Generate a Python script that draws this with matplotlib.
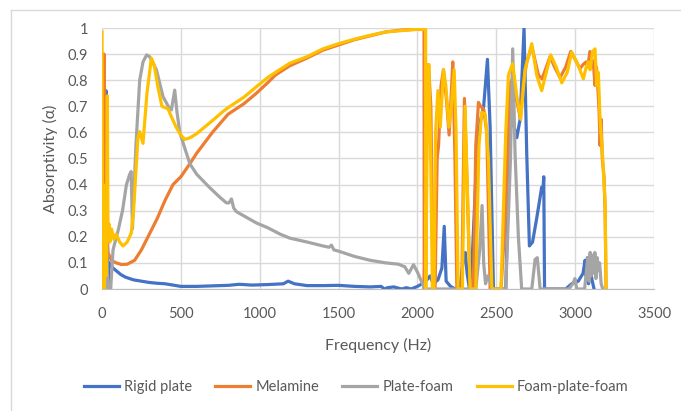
import matplotlib
matplotlib.use("Agg")
import matplotlib.pyplot as plt
from matplotlib.lines import Line2D

plt.rcParams['font.family'] = ['Lato', 'DejaVu Sans']

# Rigid plate
rigid_f = [0, 15, 20, 25, 32, 38, 45, 55, 70, 90, 120, 150, 200, 250, 300, 350, 400, 450, 500,
           600, 700, 800, 870, 950, 1050, 1150, 1180, 1220, 1300, 1400, 1500, 1600, 1700, 1770,
           1790, 1810, 1850, 1900, 1930, 1960, 2000, 2030, 2060, 2080, 2100, 2130, 2155, 2170,
           2182, 2210, 2240, 2270, 2290, 2303, 2315, 2330, 2350, 2377, 2398, 2420, 2444, 2461,
           2482, 2560, 2575, 2587, 2605, 2630, 2651, 2676, 2693, 2710, 2730, 2756, 2788, 2796,
           2801, 2806, 2940, 2978, 3020, 3050, 3063, 3070, 3078, 3085, 3095, 3105, 3120]
rigid_a = [0, 0, 0.5, 0.76, 0.3, 0.0, 0.1, 0.09, 0.08, 0.07, 0.055, 0.045, 0.035, 0.03, 0.025,
           0.022, 0.02, 0.015, 0.01, 0.01, 0.012, 0.014, 0.018, 0.015, 0.017, 0.02, 0.03, 0.02,
           0.013, 0.013, 0.014, 0.01, 0.008, 0.01, 0.0, 0.005, 0.008, 0.0, 0.005, 0.0, 0.01, 0.02,
           0.035, 0.05, 0.02, 0.035, 0.08, 0.24, 0.03, 0.01, 0.0, 0.0, 0.11, 0.14, 0.06, 0.0, 0.15,
           0.52, 0.64, 0.7, 0.88, 0.62, 0, 0, 0.35, 0.62, 0.64, 0.58, 0.65, 1.0, 0.52, 0.165, 0.18,
           0.27, 0.39, 0.38, 0.43, 0.0, 0.0, 0.02, 0.03, 0.06, 0.11, 0.05, 0.12, 0.02, 0.1, 0.04, 0.0]

# Melamine
mel_f = [0, 8, 13, 21, 30, 38, 59, 90, 123, 160, 207, 250, 300, 350, 400, 450, 500, 557, 600,
         700, 767, 800, 900, 979, 1050, 1100, 1190, 1300, 1400, 1500, 1600, 1700, 1800, 1900,
         2000, 2042, 2043, 2060, 2070, 2085, 2100, 2112, 2125, 2134, 2150, 2165, 2185, 2201,
         2215, 2224, 2238, 2250, 2281, 2298, 2315, 2334, 2355, 2370, 2387, 2400, 2420, 2440,
         2461, 2530, 2560, 2587, 2604, 2630, 2651, 2670, 2693, 2725, 2767, 2790, 2841, 2870,
         2904, 2940, 2972, 3000, 3031, 3050, 3070, 3080, 3094, 3105, 3115, 3126, 3135, 3145,
         3152, 3158, 3165, 3172, 3183, 3190, 3196]
mel_a = [0, 0, 0.9, 0.52, 0.25, 0.14, 0.11, 0.1, 0.094, 0.095, 0.11, 0.15, 0.21, 0.27, 0.34,
         0.4, 0.43, 0.48, 0.52, 0.6, 0.647, 0.67, 0.71, 0.75, 0.79, 0.82, 0.855, 0.885, 0.915,
         0.935, 0.955, 0.97, 0.985, 0.992, 0.995, 0.995, 0, 0.6, 0.86, 0.7, 0.0, 0.0, 0.5, 0.55,
         0.78, 0.84, 0.72, 0.59, 0.75, 0.87, 0.5, 0.0, 0.0, 0.73, 0.4, 0.0, 0.0, 0.55, 0.715,
         0.7, 0.69, 0.6, 0.0, 0.0, 0.3, 0.79, 0.805, 0.72, 0.66, 0.78, 0.87, 0.93, 0.82, 0.805,
         0.89, 0.85, 0.81, 0.85, 0.91, 0.88, 0.844, 0.86, 0.87, 0.85, 0.91, 0.88, 0.87, 0.78,
         0.85, 0.76, 0.68, 0.55, 0.65, 0.5, 0.43, 0.3, 0]

# Plate-foam
pf_f = [0, 22, 28, 34, 40, 55, 70, 103, 130, 155, 176, 185, 193, 215, 239, 260, 283, 302, 345,
        387, 420, 440, 461, 475, 493, 530, 557, 600, 680, 750, 789, 805, 821, 835, 853, 900,
        979, 1050, 1130, 1190, 1300, 1400, 1440, 1455, 1470, 1500, 1600, 1700, 1800, 1880,
        1920, 1945, 1975, 2000, 2030, 2049, 2370, 2395, 2410, 2420, 2432, 2445, 2460, 2475,
        2560, 2590, 2604, 2619, 2640, 2661, 2725, 2746, 2760, 2778, 2960, 2985, 2999, 3010,
        3060, 3080, 3088, 3095, 3102, 3110, 3118, 3125, 3132, 3140, 3148, 3155, 3165, 3175]
pf_a = [0, 0, 0.35, 0.05, 0.0, 0.0, 0.15, 0.226, 0.3, 0.4, 0.44, 0.45, 0.23, 0.55, 0.8, 0.87,
        0.897, 0.89, 0.84, 0.737, 0.7, 0.686, 0.762, 0.68, 0.6, 0.53, 0.48, 0.44, 0.39, 0.35,
        0.33, 0.33, 0.345, 0.31, 0.296, 0.28, 0.253, 0.235, 0.21, 0.195, 0.18, 0.165, 0.16,
        0.168, 0.15, 0.145, 0.125, 0.11, 0.1, 0.095, 0.085, 0.06, 0.093, 0.065, 0.023, 0.0,
        0.0, 0.15, 0.32, 0.1, 0.02, 0.05, 0.03, 0.0, 0.0, 0.5, 0.92, 0.52, 0.2, 0.0, 0.0, 0.113,
        0.12, 0.0, 0.0, 0.02, 0.04, 0.0, 0.0, 0.12, 0.03, 0.14, 0.05, 0.13, 0.06, 0.14, 0.04,
        0.12, 0.07, 0.1, 0.02, 0.0]

# Foam-plate-foam
fpf_f = [0, 4, 8, 14, 20, 26, 30, 34, 38, 44, 50, 60, 75, 90, 112, 133, 160, 186, 200, 215,
         228, 239, 260, 285, 313, 330, 356, 380, 400, 419, 440, 470, 500, 524, 560, 600, 650,
         700, 767, 800, 900, 979, 1050, 1100, 1190, 1300, 1400, 1500, 1600, 1700, 1800, 1900,
         2000, 2052, 2053, 2062, 2072, 2082, 2095, 2105, 2115, 2130, 2145, 2165, 2180, 2200,
         2215, 2233, 2245, 2258, 2285, 2302, 2318, 2334, 2370, 2390, 2408, 2430, 2450, 2472,
         2530, 2560, 2577, 2604, 2630, 2655, 2682, 2725, 2756, 2788, 2845, 2880, 2915, 2950,
         2978, 3020, 3052, 3070, 3084, 3095, 3111, 3126, 3137, 3147, 3158, 3175, 3190, 3196]
fpf_a = [0.985, 0, 0.4, 0.0, 0.3, 0.05, 0.35, 0.74, 0.2, 0.25, 0.18, 0.23, 0.19, 0.21, 0.18,
         0.165, 0.18, 0.215, 0.3, 0.45, 0.58, 0.603, 0.558, 0.75, 0.884, 0.86, 0.77, 0.7, 0.695,
         0.69, 0.66, 0.62, 0.59, 0.573, 0.58, 0.595, 0.62, 0.645, 0.68, 0.695, 0.735, 0.775,
         0.81, 0.83, 0.865, 0.89, 0.92, 0.94, 0.957, 0.972, 0.985, 0.99, 0.995, 0.995, 0, 0.6,
         0.86, 0.6, 0.0, 0.0, 0.6, 0.76, 0.62, 0.84, 0.78, 0.62, 0.7, 0.84, 0.6, 0.0, 0.0, 0.70,
         0.35, 0.0, 0.0, 0.55, 0.677, 0.67, 0.5, 0.0, 0.0, 0.6, 0.82, 0.863, 0.74, 0.65, 0.84,
         0.94, 0.82, 0.76, 0.897, 0.85, 0.79, 0.83, 0.908, 0.856, 0.805, 0.85, 0.87, 0.84, 0.91,
         0.92, 0.78, 0.83, 0.65, 0.5, 0.33, 0.0]

x_ticks = [0, 500, 1000, 1500, 2000, 2500, 3000, 3500]
y_ticks = [0, 0.1, 0.2, 0.3, 0.4, 0.5, 0.6, 0.7, 0.8, 0.9, 1]
y_labels = ['0', '0.1', '0.2', '0.3', '0.4', '0.5', '0.6', '0.7', '0.8', '0.9', '1']

W, H = 681, 411
fig = plt.figure(figsize=(W / 100, H / 100), dpi=100)
ax = fig.add_axes([102 / W, 1 - 289 / H, 552 / W, 261 / H])

lw = 2.3
ax.plot(rigid_f, rigid_a, color='#4472C4', lw=lw, label='Rigid plate')
ax.plot(mel_f, mel_a, color='#ED7D31', lw=lw, label='Melamine')
ax.plot(pf_f, pf_a, color='#A5A5A5', lw=lw, label='Plate-foam')
ax.plot(fpf_f, fpf_a, color='#FFC000', lw=lw, label='Foam-plate-foam')

ax.set_xlim(0, 3500)
ax.set_ylim(0, 1)
ax.set_xticks(x_ticks)
ax.set_yticks(y_ticks)
ax.set_yticklabels(y_labels)
ax.grid(True, color='#D9D9D9', lw=1)
ax.set_axisbelow(True)
for s in ['top', 'right', 'left']:
    ax.spines[s].set_visible(False)
ax.spines['bottom'].set_color('#BFBFBF')
ax.tick_params(axis='x', length=0, labelsize=10.5, labelcolor='#595959', pad=13)
ax.tick_params(axis='y', length=0, labelsize=10.5, labelcolor='#595959', pad=10)

ax.set_xlabel('Frequency (Hz)', fontsize=11.5, color='#595959', labelpad=12)
ax.set_ylabel('Absorptivity (α)', fontsize=11.5, color='#595959', labelpad=7)

ax.legend(loc='center', bbox_to_anchor=(0.46, -0.375), ncol=4, frameon=False,
          fontsize=10.5, labelcolor='#595959', handlelength=2.4, columnspacing=1.6,
          handletextpad=0.35)

# chart area border (only top and left edges are visible)
fig.add_artist(Line2D([11 / W, 11 / W], [0, 1 - 10 / H], color='#D9D9D9', lw=1))
fig.add_artist(Line2D([11 / W, 1], [1 - 10 / H, 1 - 10 / H], color='#D9D9D9', lw=1))

fig.savefig('out.png', dpi=100)
